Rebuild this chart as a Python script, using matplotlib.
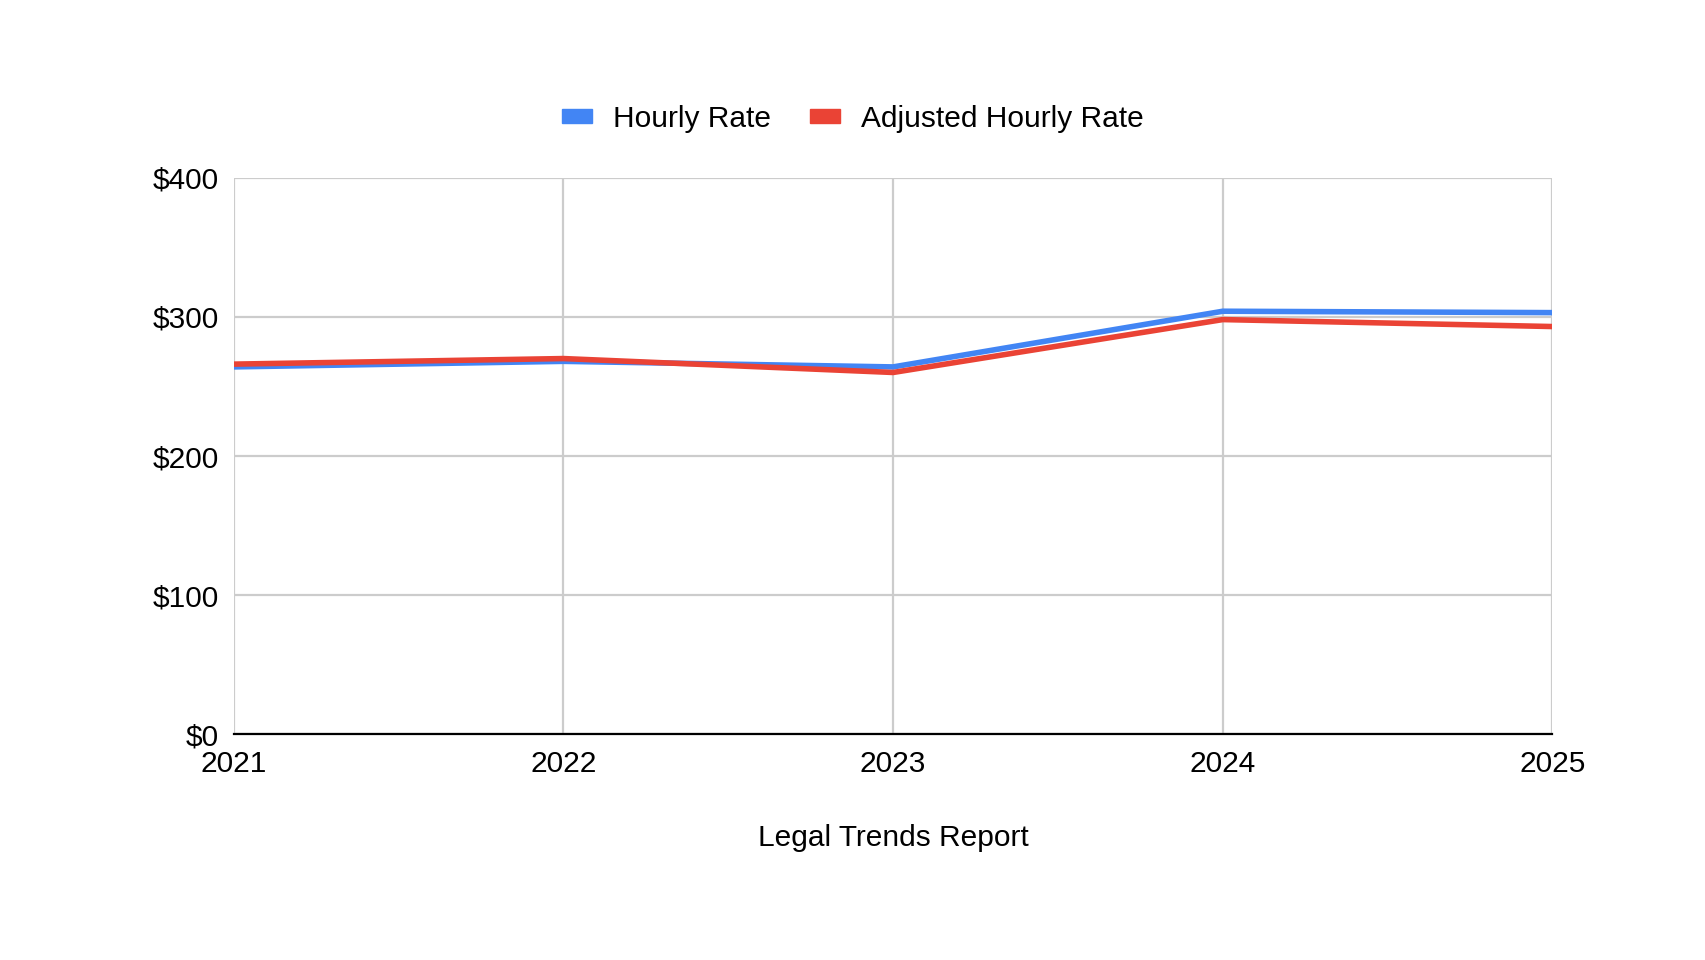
import matplotlib.pyplot as plt
from matplotlib.patches import Patch

# data
years = [2021, 2022, 2023, 2024, 2025]
hourly_rate = [264, 268, 264, 304, 303]
adjusted_rate = [266, 270, 260, 298, 293]
y_ticks = [0, 100, 200, 300, 400]

blue = '#4285F4'
red = '#EA4335'
grid_col = '#CCCCCC'

plt.rcParams['font.family'] = ['Liberation Sans', 'DejaVu Sans']

fig = plt.figure(figsize=(17.06, 9.6), dpi=100)
ax = fig.add_axes([0.137, 0.235, 0.773, 0.58])

ax.plot(years, hourly_rate, color=blue, lw=4, solid_joinstyle='round', zorder=3)
ax.plot(years, adjusted_rate, color=red, lw=4, solid_joinstyle='round', zorder=4)

ax.set_xlim(years[0], years[-1])
ax.set_ylim(0, 400)
ax.set_xticks(years)
ax.set_xticklabels([str(y) for y in years])
ax.set_yticks(y_ticks)
ax.set_yticklabels([f'${v}' for v in y_ticks])

ax.grid(True, color=grid_col, lw=1.6)
ax.tick_params(length=0, labelsize=21.5, colors='#000000')
ax.tick_params(axis='x', pad=11.5)
ax.tick_params(axis='y', pad=11)

for side in ['top', 'left', 'right']:
    ax.spines[side].set_visible(False)
ax.spines['bottom'].set_color('#000000')
ax.spines['bottom'].set_linewidth(1.6)
ax.spines['bottom'].set_zorder(5)

ax.set_xlabel('Legal Trends Report', fontsize=21.5, labelpad=33)

handles = [Patch(color=blue, label='Hourly Rate'),
           Patch(color=red, label='Adjusted Hourly Rate')]
fig.legend(handles=handles, loc='center', bbox_to_anchor=(0.5, 0.876), ncol=2,
           frameon=False, fontsize=21.5, handlelength=1.0, handleheight=0.33,
           handletextpad=0.7, columnspacing=1.3)

fig.savefig('out.png', dpi=100, facecolor='white')
